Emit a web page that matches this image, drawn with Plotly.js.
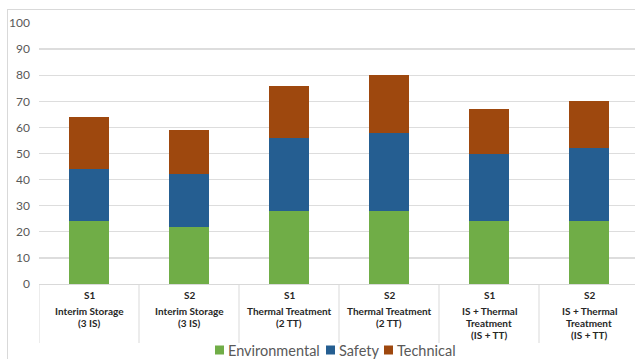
<!DOCTYPE html>
<html>
<head>
<meta charset="utf-8">
<script src="https://cdn.plot.ly/plotly-3.0.1.min.js"></script>
<style>
html,body{margin:0;padding:0;background:#fff;overflow:hidden;}
#wrap{position:relative;width:635px;height:359px;overflow:hidden;}
#chart{position:absolute;left:0;top:0;width:635px;height:359px;}
#border{position:absolute;left:7px;top:9px;width:640px;height:400px;border:1px solid #D9D9D9;pointer-events:none;}
</style>
</head>
<body>
<div id="wrap"><div id="chart"></div><div id="border"></div></div>
<script>
const scenarios = ["S1", "S2", "S1", "S2", "S1", "S2"];
const categoryLabels = [
  "Interim Storage<br>(3 IS)",
  "Interim Storage<br>(3 IS)",
  "Thermal Treatment<br>(2 TT)",
  "Thermal Treatment<br>(2 TT)",
  "IS + Thermal<br>Treatment<br>(IS + TT)",
  "IS + Thermal<br>Treatment<br>(IS + TT)"
];
const seriesNames = ["Environmental", "Safety", "Technical"];
const environmental = [24, 22, 28, 28, 24, 24];
const safety = [20, 20, 28, 30, 26, 28];
const technical = [20, 17, 20, 22, 17, 18];
const yTicks = [0, 10, 20, 30, 40, 50, 60, 70, 80, 90, 100];

const colors = ["#70AD47", "#255E91", "#9E480E"];
const idx = scenarios.map((_, i) => i);
const FONT = "Lato, 'Open Sans', sans-serif";

// plot geometry (pixels)
const L = 39, T = 23, W = 596, H = 261, B = T + H;
const px = x => (x - L) / W;
const py = y => (B - y) / H;

const traces = [environmental, safety, technical].map((vals, k) => ({
  type: "bar", x: idx, y: vals, name: seriesNames[k],
  marker: {color: colors[k], line: {width: 0}},
  hoverinfo: "skip", showlegend: false
}));

const annotations = [];
idx.forEach(i => {
  annotations.push({
    x: i, xref: "x", y: py(295), yref: "paper", yanchor: "middle", xanchor: "center",
    text: "<b>" + scenarios[i] + "</b>", showarrow: false,
    font: {family: FONT, size: 10, color: "#262626"}
  });
  categoryLabels[i].split("<br>").forEach((line, j) => {
    annotations.push({
      x: i, xref: "x", y: py(311 + 12 * j), yref: "paper", yanchor: "middle", xanchor: "center",
      text: "<b>" + line + "</b>", showarrow: false,
      font: {family: FONT, size: 10, color: "#262626"}
    });
  });
});

const shapes = [];
for (let k = 0; k <= scenarios.length; k++) {
  shapes.push({
    type: "line", xref: "x", yref: "paper", x0: k - 0.5, x1: k - 0.5,
    y0: 0, y1: py(343), line: {color: "#D9D9D9", width: 1}
  });
}

// manual legend
const legendSquares = [215, 326, 384];
const legendTexts = [228, 339, 397];
seriesNames.forEach((name, k) => {
  shapes.push({
    type: "rect", xref: "paper", yref: "paper",
    x0: px(legendSquares[k]), x1: px(legendSquares[k] + 9),
    y0: py(354.5), y1: py(345.5),
    fillcolor: colors[k], line: {width: 0}
  });
  annotations.push({
    x: px(legendTexts[k] - 2), xref: "paper", y: py(350), yref: "paper",
    xanchor: "left", yanchor: "middle", text: name, showarrow: false,
    font: {family: FONT, size: 14.5, color: "#595959"}
  });
});

const layout = {
  width: 635, height: 359,
  margin: {l: L, r: 0, t: T, b: 359 - B, autoexpand: false},
  barmode: "stack",
  bargap: 0.6,
  paper_bgcolor: "#ffffff",
  plot_bgcolor: "#ffffff",
  font: {family: FONT, color: "#595959"},
  showlegend: false,
  xaxis: {
    range: [-0.5, 5.46], showticklabels: false, showgrid: false,
    zeroline: false, showline: true, linecolor: "#D9D9D9", linewidth: 1,
    ticks: "", fixedrange: true
  },
  yaxis: {
    range: [0, 100], tickvals: yTicks, ticktext: yTicks.map(String),
    showgrid: true, gridcolor: "#DDDDDD", gridwidth: 1.3, zeroline: false,
    showline: false, ticks: "", ticklen: 0, ticklabelstandoff: 8,
    tickfont: {family: FONT, size: 12, color: "#595959"},
    fixedrange: true
  },
  annotations: annotations,
  shapes: shapes
};

Plotly.newPlot("chart", traces, layout, {displayModeBar: false, staticPlot: true});
</script>
</body>
</html>
